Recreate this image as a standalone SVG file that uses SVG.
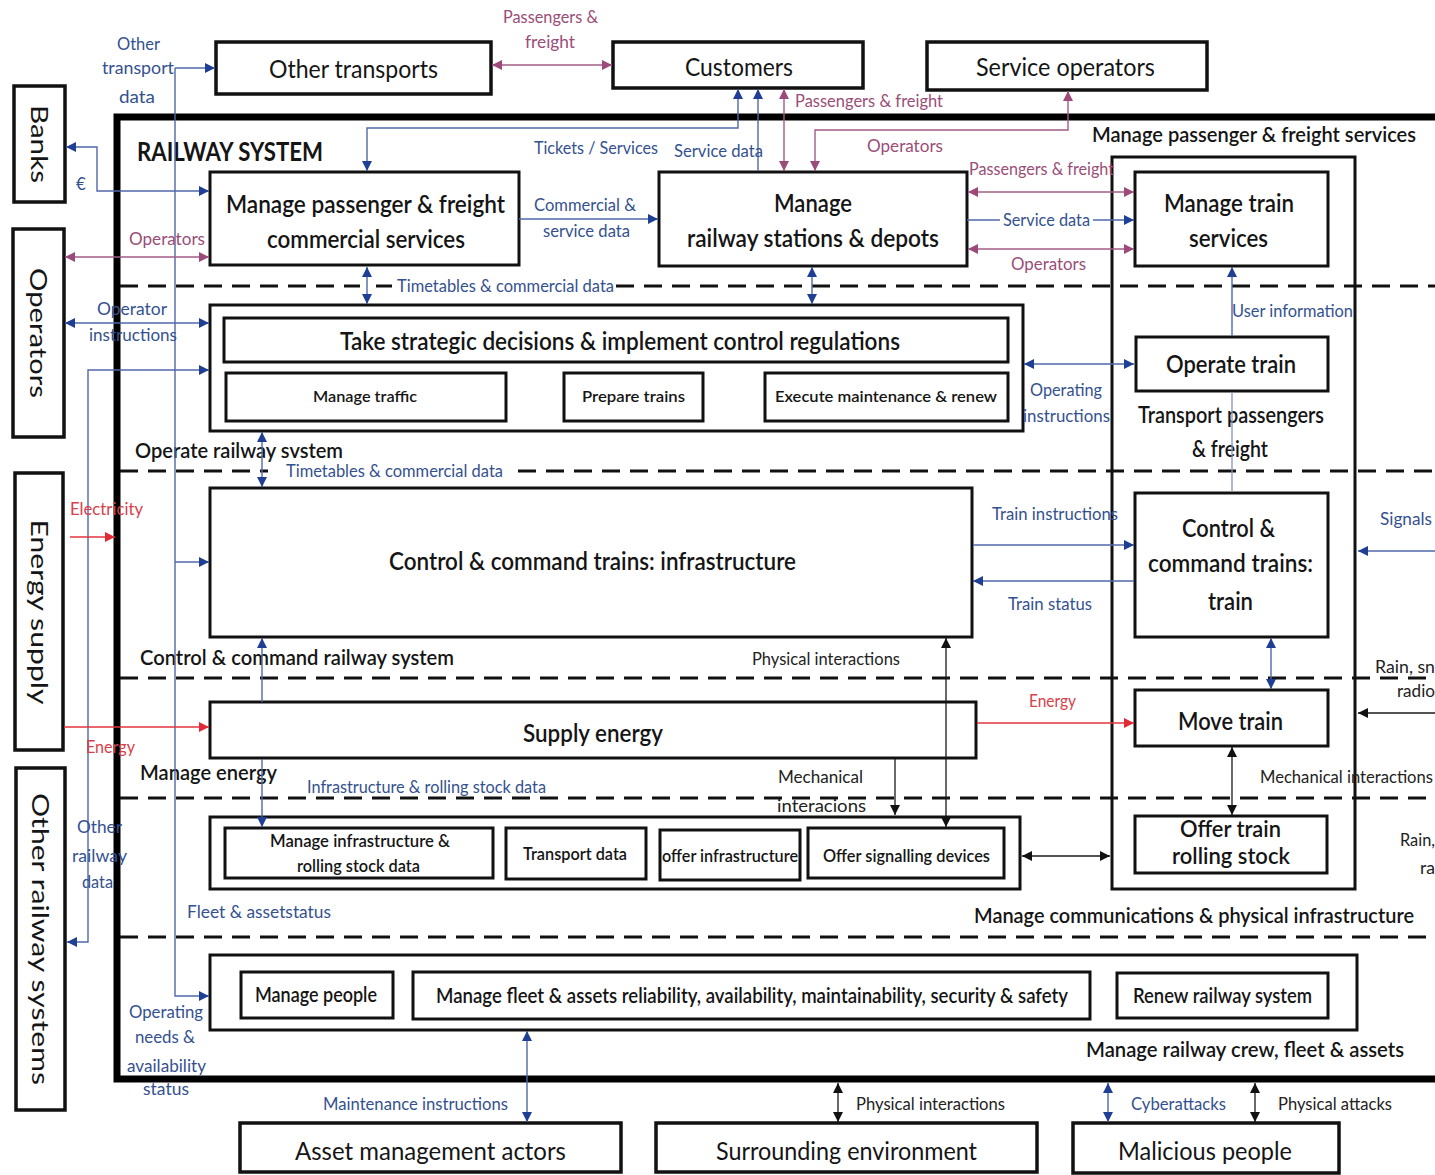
<svg xmlns="http://www.w3.org/2000/svg" width="1435" height="1175" viewBox="0 0 1435 1175">
  <style>
    text { font-family: Lato, "Liberation Sans", sans-serif; fill: #151515; }
    .actor { fill: #fff; stroke: #111; stroke-width: 3.5; }
    .box { fill: #fff; stroke: #111; stroke-width: 3; }
    .open { fill: none; stroke: #111; stroke-width: 3; }
    .frame { fill: none; stroke: #000; stroke-width: 7; }
    .lane { fill: none; stroke: #111; stroke-width: 3; stroke-dasharray: 18 10; }
    .cb { fill: none; stroke: #5068AA; stroke-width: 1.4; }
    .cbt { fill: none; stroke: #8793B8; stroke-width: 1.3; }
    .cm { fill: none; stroke: #A35B86; stroke-width: 1.4; }
    .cr { fill: none; stroke: #E5353F; stroke-width: 1.4; }
    .ck { fill: none; stroke: #1A1A1A; stroke-width: 1.3; }
    .a25 { font-size: 25px; }
    .p25 { font-size: 25px; font-weight: 600; }
    .p24 { font-size: 24px; font-weight: 600; }
    .p22 { font-size: 22px; font-weight: 600; }
    .p21 { font-size: 21px; font-weight: 600; }
    .p18 { font-size: 18px; font-weight: 600; }
    .p16 { font-size: 16px; font-weight: 600; }
    .lane-t { font-size: 21px; font-weight: 600; }
    .side { font-size: 24px; }
    .lb { font-size: 17px; fill: #34518F; }
    .lm { font-size: 17px; fill: #9A4D78; }
    .lr { font-size: 17px; fill: #D8404A; }
    .lk { font-size: 17px; fill: #222; }
  </style>
  <defs>
    <marker id="mb" viewBox="0 0 10 10" refX="10" refY="5" markerWidth="11" markerHeight="10" markerUnits="userSpaceOnUse" orient="auto-start-reverse"><path d="M0,0L10,5L0,10z" fill="#1F3F95"/></marker>
    <marker id="mm" viewBox="0 0 10 10" refX="10" refY="5" markerWidth="11" markerHeight="10" markerUnits="userSpaceOnUse" orient="auto-start-reverse"><path d="M0,0L10,5L0,10z" fill="#9C4A7B"/></marker>
    <marker id="mr" viewBox="0 0 10 10" refX="10" refY="5" markerWidth="11" markerHeight="10" markerUnits="userSpaceOnUse" orient="auto-start-reverse"><path d="M0,0L10,5L0,10z" fill="#E02A35"/></marker>
    <marker id="mk" viewBox="0 0 10 10" refX="10" refY="5" markerWidth="11" markerHeight="10" markerUnits="userSpaceOnUse" orient="auto-start-reverse"><path d="M0,0L10,5L0,10z" fill="#111"/></marker>
  </defs>

  <rect width="1435" height="1175" fill="#fff"/>

  <!-- railway system boundary (open to the right) -->
  <g id="railway-system">
    <rect class="frame" x="117" y="117" width="1340" height="962"/>
    <text x="137" y="161" font-size="26" font-weight="700" textLength="186" lengthAdjust="spacingAndGlyphs">RAILWAY SYSTEM</text>
  </g>

  <!-- swimlane separators -->
  <g id="lanes">
    <path class="lane" d="M120,286H360M376,286H392M616,286H1435"/>
    <path class="lane" d="M120,471H268M518,471H1435"/>
    <path class="lane" d="M120,678H1435"/>
    <path class="lane" d="M120,798H1435"/>
    <path class="lane" d="M120,937H1435"/>
  </g>

  <!-- swimlane titles -->
  <g id="lane-titles">
    <text class="lane-t" x="1092" y="142" textLength="324" lengthAdjust="spacingAndGlyphs">Manage  passenger &amp; freight services</text>
    <text class="lane-t" x="135" y="458" textLength="208" lengthAdjust="spacingAndGlyphs">Operate railway  svstem</text>
    <text class="lane-t" x="140" y="665" textLength="314" lengthAdjust="spacingAndGlyphs">Control &amp; command  railway system</text>
    <text class="lane-t" x="140" y="780" textLength="137" lengthAdjust="spacingAndGlyphs">Manage  energy</text>
    <text class="lane-t" x="974" y="923" font-size="19.5" textLength="440" lengthAdjust="spacingAndGlyphs">Manage communications &amp; physical infrastructure</text>
    <text class="lane-t" x="1086" y="1057" textLength="318" lengthAdjust="spacingAndGlyphs">Manage railway crew, fleet &amp; assets</text>
  </g>

  <!-- external actors -->
  <g id="other-transports">
    <rect class="actor" x="216" y="42" width="275" height="52"/>
    <text class="a25" x="269" y="78" textLength="169" lengthAdjust="spacingAndGlyphs">Other transports</text>
  </g>
  <g id="customers">
    <rect class="actor" x="613" y="42" width="250" height="46"/>
    <text class="a25" x="685" y="76" textLength="108" lengthAdjust="spacingAndGlyphs">Customers</text>
  </g>
  <g id="service-operators">
    <rect class="actor" x="927" y="42" width="280" height="48"/>
    <text class="a25" x="976" y="76" textLength="179" lengthAdjust="spacingAndGlyphs">Service operators</text>
  </g>
  <g id="banks">
    <rect class="actor" x="14" y="86" width="51" height="116"/>
    <text class="side" transform="translate(31,144) rotate(90)" text-anchor="middle" textLength="78" lengthAdjust="spacingAndGlyphs">Banks</text>
  </g>
  <g id="operators">
    <rect class="actor" x="13" y="229" width="51" height="208"/>
    <text class="side" transform="translate(30,333) rotate(90)" text-anchor="middle" textLength="130" lengthAdjust="spacingAndGlyphs">Operators</text>
  </g>
  <g id="energy-supply">
    <rect class="actor" x="15" y="473" width="48" height="277"/>
    <text class="side" transform="translate(31,612) rotate(90)" text-anchor="middle" textLength="185" lengthAdjust="spacingAndGlyphs">Energy supply</text>
  </g>
  <g id="other-railway-systems">
    <rect class="actor" x="16" y="768" width="49" height="342"/>
    <text class="side" transform="translate(32,939) rotate(90)" text-anchor="middle" textLength="292" lengthAdjust="spacingAndGlyphs">Other railway systems</text>
  </g>
  <g id="asset-management-actors">
    <rect class="actor" x="240" y="1123" width="381" height="49"/>
    <text class="a25" x="295" y="1160" textLength="271" lengthAdjust="spacingAndGlyphs">Asset management actors</text>
  </g>
  <g id="surrounding-environment">
    <rect class="actor" x="656" y="1123" width="381" height="49"/>
    <text class="a25" x="716" y="1160" textLength="261" lengthAdjust="spacingAndGlyphs">Surrounding environment</text>
  </g>
  <g id="malicious-people">
    <rect class="actor" x="1073" y="1123" width="266" height="50"/>
    <text class="a25" x="1118" y="1160" textLength="174" lengthAdjust="spacingAndGlyphs">Malicious people</text>
  </g>

  <!-- processes: passenger & freight services -->
  <g id="manage-commercial">
    <rect class="box" x="210" y="172" width="309" height="93"/>
    <text class="p25" x="226" y="213" textLength="279" lengthAdjust="spacingAndGlyphs">Manage passenger &amp; freight</text>
    <text class="p25" x="267" y="248" textLength="198" lengthAdjust="spacingAndGlyphs">commercial services</text>
  </g>
  <g id="manage-stations">
    <rect class="box" x="659" y="172" width="308" height="94"/>
    <text class="p25" x="774" y="212" textLength="78" lengthAdjust="spacingAndGlyphs">Manage</text>
    <text class="p25" x="687" y="247" textLength="252" lengthAdjust="spacingAndGlyphs">railway stations &amp; depots</text>
  </g>

  <!-- train-side container -->
  <g id="transport-passengers-freight">
    <rect class="open" x="1112" y="157" width="243" height="732"/>
    <text class="p22" x="1138" y="423" textLength="186" lengthAdjust="spacingAndGlyphs">Transport  passengers</text>
    <text class="p22" x="1192" y="457" textLength="76" lengthAdjust="spacingAndGlyphs">&amp; freight</text>
  </g>
  <g id="manage-train-services">
    <rect class="box" x="1135" y="172" width="193" height="94"/>
    <text class="p25" x="1164" y="212" textLength="130" lengthAdjust="spacingAndGlyphs">Manage train</text>
    <text class="p25" x="1189" y="247" textLength="79" lengthAdjust="spacingAndGlyphs">services</text>
  </g>
  <g id="operate-train">
    <rect class="box" x="1136" y="337" width="192" height="54"/>
    <text class="p25" x="1166" y="373" textLength="130" lengthAdjust="spacingAndGlyphs">Operate train</text>
  </g>
  <g id="control-command-train">
    <rect class="box" x="1135" y="493" width="193" height="144"/>
    <text class="p25" x="1182" y="537" textLength="93" lengthAdjust="spacingAndGlyphs">Control &amp;</text>
    <text class="p25" x="1148" y="572" textLength="165" lengthAdjust="spacingAndGlyphs">command trains:</text>
    <text class="p25" x="1208" y="610" textLength="45" lengthAdjust="spacingAndGlyphs">train</text>
  </g>
  <g id="move-train">
    <rect class="box" x="1135" y="690" width="193" height="56"/>
    <text class="p25" x="1178" y="730" textLength="105" lengthAdjust="spacingAndGlyphs">Move train</text>
  </g>
  <g id="offer-train-rolling-stock">
    <rect class="box" x="1135" y="816" width="192" height="57"/>
    <text x="1180" y="837" font-size="22" font-weight="600" textLength="101" lengthAdjust="spacingAndGlyphs">Offer train</text>
    <text x="1172" y="864" font-size="22" font-weight="600" textLength="118" lengthAdjust="spacingAndGlyphs">rolling stock</text>
  </g>

  <!-- operate railway system -->
  <g id="operate-railway-system">
    <rect class="box" x="210" y="305" width="813" height="126"/>
  </g>
  <g id="strategic-decisions">
    <rect class="box" x="224" y="318" width="784" height="44"/>
    <text class="p24" x="340" y="350" textLength="560" lengthAdjust="spacingAndGlyphs">Take strategic decisions &amp; implement control regulations</text>
  </g>
  <g id="manage-traffic">
    <rect class="box" x="226" y="373" width="280" height="48"/>
    <text class="p16" x="313" y="402" textLength="104" lengthAdjust="spacingAndGlyphs">Manage traffic</text>
  </g>
  <g id="prepare-trains">
    <rect class="box" x="564" y="373" width="139" height="48"/>
    <text class="p16" x="582" y="402" textLength="103" lengthAdjust="spacingAndGlyphs">Prepare trains</text>
  </g>
  <g id="execute-maintenance">
    <rect class="box" x="765" y="373" width="243" height="48"/>
    <text class="p16" x="775" y="402" textLength="222" lengthAdjust="spacingAndGlyphs">Execute maintenance &amp; renew</text>
  </g>

  <!-- control & command -->
  <g id="control-command-infrastructure">
    <rect class="box" x="210" y="488" width="762" height="149"/>
    <text class="p24" x="389" y="570" textLength="407" lengthAdjust="spacingAndGlyphs">Control &amp; command trains: infrastructure</text>
  </g>

  <!-- energy -->
  <g id="supply-energy">
    <rect class="box" x="210" y="702" width="766" height="56"/>
    <text class="p24" x="523" y="742" textLength="140" lengthAdjust="spacingAndGlyphs">Supply energy</text>
  </g>

  <!-- communications & physical infrastructure -->
  <g id="communications-infrastructure">
    <rect class="box" x="210" y="817" width="810" height="72"/>
  </g>
  <g id="manage-infrastructure-data">
    <rect class="box" x="225" y="828" width="268" height="50"/>
    <text class="p18" x="270" y="847" textLength="180" lengthAdjust="spacingAndGlyphs">Manage infrastructure &amp;</text>
    <text class="p18" x="297" y="872" textLength="123" lengthAdjust="spacingAndGlyphs">rolling stock data</text>
  </g>
  <g id="transport-data">
    <rect class="box" x="506" y="828" width="140" height="51"/>
    <text class="p18" x="523" y="860" textLength="104" lengthAdjust="spacingAndGlyphs">Transport data</text>
  </g>
  <g id="offer-infrastructure">
    <rect class="box" x="660" y="830" width="140" height="50"/>
    <text class="p18" x="662" y="862" textLength="136" lengthAdjust="spacingAndGlyphs">offer infrastructure</text>
  </g>
  <g id="offer-signalling-devices">
    <rect class="box" x="808" y="828" width="196" height="50"/>
    <text class="p18" x="823" y="862" textLength="167" lengthAdjust="spacingAndGlyphs">Offer signalling devices</text>
  </g>

  <!-- crew, fleet & assets -->
  <g id="crew-fleet-assets">
    <rect class="box" x="210" y="955" width="1147" height="75"/>
  </g>
  <g id="manage-people">
    <rect class="box" x="241" y="972" width="152" height="46"/>
    <text class="p21" x="255" y="1002" textLength="122" lengthAdjust="spacingAndGlyphs">Manage people</text>
  </g>
  <g id="manage-fleet-assets">
    <rect class="box" x="413" y="972" width="677" height="47"/>
    <text class="p21" x="436" y="1003" textLength="632" lengthAdjust="spacingAndGlyphs">Manage fleet &amp; assets reliability, availability, maintainability, security &amp; safety</text>
  </g>
  <g id="renew-railway-system">
    <rect class="box" x="1117" y="973" width="211" height="45"/>
    <text class="p21" x="1133" y="1003" textLength="179" lengthAdjust="spacingAndGlyphs">Renew railway system</text>
  </g>

  <!-- flows -->
  <g id="connectors">
    <!-- data / information flows -->
    <path class="cb" d="M66,147H97V191H209" marker-start="url(#mb)" marker-end="url(#mb)"/>
    <path class="cb" d="M175,68H215" marker-end="url(#mb)"/>
    <path class="cb" d="M175,68V996H209" marker-end="url(#mb)"/>
    <path class="cb" d="M175,562H209" marker-end="url(#mb)"/>
    <path class="cb" d="M65,323H209" marker-start="url(#mb)" marker-end="url(#mb)"/>
    <path class="cb" d="M67,942H88V370H209" marker-start="url(#mb)" marker-end="url(#mb)"/>
    <path class="cb" d="M738,89V128H367V171" marker-start="url(#mb)" marker-end="url(#mb)"/>
    <path class="cb" d="M758,171V89" marker-end="url(#mb)"/>
    <path class="cb" d="M519,219H658" marker-end="url(#mb)"/>
    <path class="cb" d="M967,220H1000"/>
    <path class="cb" d="M1093,220H1134" marker-end="url(#mb)"/>
    <path class="cb" d="M367,267V304" marker-start="url(#mb)" marker-end="url(#mb)"/>
    <path class="cb" d="M812,267V304" marker-start="url(#mb)" marker-end="url(#mb)"/>
    <path class="cb" d="M1232,336V267" marker-end="url(#mb)"/>
    <path class="cbt" d="M1232,392V492"/>
    <path class="cb" d="M1024,364H1134" marker-start="url(#mb)" marker-end="url(#mb)"/>
    <path class="cb" d="M262,432V487" marker-start="url(#mb)" marker-end="url(#mb)"/>
    <path class="cb" d="M973,545H1134" marker-end="url(#mb)"/>
    <path class="cb" d="M1134,581H973" marker-end="url(#mb)"/>
    <path class="cb" d="M1435,551H1358" marker-end="url(#mb)"/>
    <path class="cb" d="M1271,638V689" marker-start="url(#mb)" marker-end="url(#mb)"/>
    <path class="cb" d="M262,702V638" marker-end="url(#mb)"/>
    <path class="cb" d="M262,759V827" marker-end="url(#mb)"/>
    <path class="cb" d="M527,1031V1122" marker-start="url(#mb)" marker-end="url(#mb)"/>
    <path class="cb" d="M1108,1083V1122" marker-start="url(#mb)" marker-end="url(#mb)"/>
    <!-- passengers, freight & operators -->
    <path class="cm" d="M492,65H612" marker-start="url(#mm)" marker-end="url(#mm)"/>
    <path class="cm" d="M784,89V171" marker-start="url(#mm)" marker-end="url(#mm)"/>
    <path class="cm" d="M1068,91V130H815V171" marker-start="url(#mm)" marker-end="url(#mm)"/>
    <path class="cm" d="M65,257H209" marker-start="url(#mm)" marker-end="url(#mm)"/>
    <path class="cm" d="M968,192H1134" marker-start="url(#mm)" marker-end="url(#mm)"/>
    <path class="cm" d="M968,249H1134" marker-start="url(#mm)" marker-end="url(#mm)"/>
    <!-- energy -->
    <path class="cr" d="M70,537H115" marker-end="url(#mr)"/>
    <path class="cr" d="M64,727H209" marker-end="url(#mr)"/>
    <path class="cr" d="M977,723H1134" marker-end="url(#mr)"/>
    <!-- physical interactions -->
    <path class="ck" d="M946,827V638" marker-start="url(#mk)" marker-end="url(#mk)"/>
    <path class="ck" d="M895,759V815" marker-end="url(#mk)"/>
    <path class="ck" d="M1232,747V815" marker-start="url(#mk)" marker-end="url(#mk)"/>
    <path class="ck" d="M1022,856H1110" marker-start="url(#mk)" marker-end="url(#mk)"/>
    <path class="ck" d="M1435,713H1358" marker-end="url(#mk)"/>
    <path class="ck" d="M838,1083V1122" marker-start="url(#mk)" marker-end="url(#mk)"/>
    <path class="ck" d="M1255,1083V1122" marker-start="url(#mk)" marker-end="url(#mk)"/>
  </g>

  <!-- flow labels -->
  <g id="connector-labels">
    <text class="lb" x="117" y="50" textLength="43" lengthAdjust="spacingAndGlyphs">Other</text>
    <text class="lb" x="102" y="74" textLength="72" lengthAdjust="spacingAndGlyphs">transport</text>
    <text class="lb" x="119" y="103" textLength="36" lengthAdjust="spacingAndGlyphs">data</text>
    <text class="lb" x="76" y="190" font-size="15">€</text>
    <text class="lb" x="97" y="315" textLength="70" lengthAdjust="spacingAndGlyphs">Operator</text>
    <text class="lb" x="89" y="341" textLength="88" lengthAdjust="spacingAndGlyphs">instructions</text>
    <text class="lb" x="534" y="154" textLength="124" lengthAdjust="spacingAndGlyphs">Tickets / Services</text>
    <text class="lb" x="674" y="157" textLength="89" lengthAdjust="spacingAndGlyphs">Service data</text>
    <text class="lb" x="534" y="211" textLength="102" lengthAdjust="spacingAndGlyphs">Commercial &amp;</text>
    <text class="lb" x="543" y="237" textLength="87" lengthAdjust="spacingAndGlyphs">service data</text>
    <text class="lb" x="1003" y="226" textLength="87" lengthAdjust="spacingAndGlyphs">Service data</text>
    <text class="lb" x="397" y="292" textLength="217" lengthAdjust="spacingAndGlyphs">Timetables &amp; commercial data</text>
    <text class="lb" x="1232" y="317" textLength="121" lengthAdjust="spacingAndGlyphs">User information</text>
    <text class="lb" x="1030" y="396" textLength="72" lengthAdjust="spacingAndGlyphs">Operating</text>
    <text class="lb" x="1023" y="422" textLength="87" lengthAdjust="spacingAndGlyphs">instructions</text>
    <text class="lb" x="286" y="477" textLength="217" lengthAdjust="spacingAndGlyphs">Timetables &amp; commercial data</text>
    <text class="lb" x="992" y="520" textLength="126" lengthAdjust="spacingAndGlyphs">Train instructions</text>
    <text class="lb" x="1008" y="610" textLength="84" lengthAdjust="spacingAndGlyphs">Train status</text>
    <text class="lb" x="1380" y="525" textLength="52" lengthAdjust="spacingAndGlyphs">Signals</text>
    <text class="lb" x="307" y="793" textLength="239" lengthAdjust="spacingAndGlyphs">Infrastructure &amp; rolling stock data</text>
    <text class="lb" x="77" y="833" textLength="45" lengthAdjust="spacingAndGlyphs">Other</text>
    <text class="lb" x="72" y="862" textLength="55" lengthAdjust="spacingAndGlyphs">railway</text>
    <text class="lb" x="82" y="888" textLength="31" lengthAdjust="spacingAndGlyphs">data</text>
    <text class="lb" x="187" y="918" textLength="144" lengthAdjust="spacingAndGlyphs">Fleet  &amp; assetstatus</text>
    <text class="lb" x="129" y="1018" textLength="74" lengthAdjust="spacingAndGlyphs">Operating</text>
    <text class="lb" x="135" y="1043" textLength="60" lengthAdjust="spacingAndGlyphs">needs &amp;</text>
    <text class="lb" x="127" y="1072" textLength="79" lengthAdjust="spacingAndGlyphs">availability</text>
    <text class="lb" x="143" y="1095" textLength="46" lengthAdjust="spacingAndGlyphs">status</text>
    <text class="lb" x="323" y="1110" textLength="185" lengthAdjust="spacingAndGlyphs">Maintenance instructions</text>
    <text class="lb" x="1131" y="1110" textLength="95" lengthAdjust="spacingAndGlyphs">Cyberattacks</text>

    <text class="lm" x="503" y="23" textLength="95" lengthAdjust="spacingAndGlyphs">Passengers &amp;</text>
    <text class="lm" x="525" y="48" textLength="50" lengthAdjust="spacingAndGlyphs">freight</text>
    <text class="lm" x="795" y="107" textLength="148" lengthAdjust="spacingAndGlyphs">Passengers &amp; freight</text>
    <text class="lm" x="867" y="152" textLength="76" lengthAdjust="spacingAndGlyphs">Operators</text>
    <text class="lm" x="129" y="245" textLength="76" lengthAdjust="spacingAndGlyphs">Operators</text>
    <text class="lm" x="969" y="175" textLength="145" lengthAdjust="spacingAndGlyphs">Passengers &amp; freight</text>
    <text class="lm" x="1011" y="270" textLength="75" lengthAdjust="spacingAndGlyphs">Operators</text>

    <text class="lr" x="70" y="515" textLength="73" lengthAdjust="spacingAndGlyphs">Electricity</text>
    <text class="lr" x="86" y="753" textLength="49" lengthAdjust="spacingAndGlyphs">Energy</text>
    <text class="lr" x="1029" y="707" textLength="47" lengthAdjust="spacingAndGlyphs">Energy</text>

    <text class="lk" x="752" y="665" textLength="148" lengthAdjust="spacingAndGlyphs">Physical interactions</text>
    <text class="lk" x="778" y="783" textLength="85" lengthAdjust="spacingAndGlyphs">Mechanical</text>
    <text class="lk" x="777" y="812" textLength="89" lengthAdjust="spacingAndGlyphs">interacions</text>
    <text class="lk" x="1260" y="783" textLength="173" lengthAdjust="spacingAndGlyphs">Mechanical interactions</text>
    <text class="lk" x="1375" y="673" textLength="60" lengthAdjust="spacingAndGlyphs">Rain, sn</text>
    <text class="lk" x="1397" y="697" textLength="38" lengthAdjust="spacingAndGlyphs">radio</text>
    <text class="lk" x="1400" y="846" textLength="35" lengthAdjust="spacingAndGlyphs">Rain,</text>
    <text class="lk" x="1420" y="874" textLength="15" lengthAdjust="spacingAndGlyphs">ra</text>
    <text class="lk" x="856" y="1110" textLength="149" lengthAdjust="spacingAndGlyphs">Physical interactions</text>
    <text class="lk" x="1278" y="1110" textLength="114" lengthAdjust="spacingAndGlyphs">Physical attacks</text>
  </g>
</svg>
